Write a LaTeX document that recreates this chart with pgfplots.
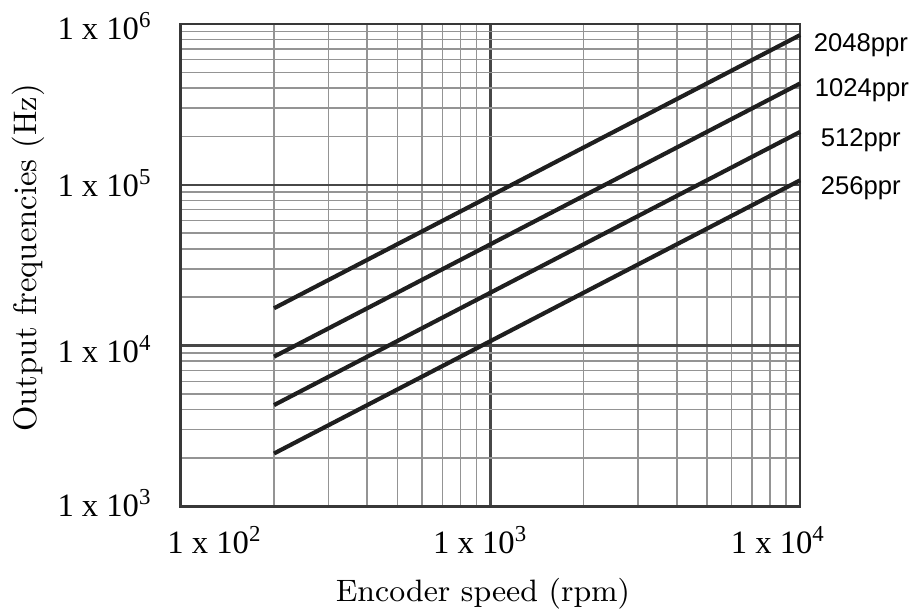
\documentclass[border=0pt]{standalone}
\usepackage{pgfplots}
\pgfplotsset{compat=1.18}
\usepackage{fontspec}
\newfontfamily\tickfont{Liberation Serif}
\newfontfamily\pprfont{Liberation Sans}
\begin{document}
\begin{tikzpicture}
\begin{axis}[
  scale only axis,
  width=186pt, height=144.9pt,
  xmode=log, ymode=log,
  xmin=100, xmax=10000, ymin=1000, ymax=1000000,
  xtick={100,1000,10000}, ytick={1000,10000,100000,1000000},
  xticklabels={,,}, yticklabels={,,,},
  major tick length=0pt, minor tick length=0pt,
  grid=both,
  major grid style={black!72, line width=0.7pt},
  minor grid style={black!42, line width=0.45pt},
  axis line style={black!78, line width=0.8pt},
  clip=false,
]
\addplot[black!88, line width=1.25pt] coordinates {(200,17067) (10000,853333)};
\addplot[black!88, line width=1.25pt] coordinates {(200,8533) (10000,426667)};
\addplot[black!88, line width=1.25pt] coordinates {(200,4267) (10000,213333)};
\addplot[black!88, line width=1.25pt] coordinates {(200,2133) (10000,106667)};

% x tick labels
\node[xshift=-4.2pt, yshift=-14.1pt, anchor=base west, inner sep=0pt, font=\tickfont\fontsize{9.8}{11}\selectfont] at (axis cs:100,1000) {1 x 10\textsuperscript{2}};
\node[xshift=-17.4pt, yshift=-14.1pt, anchor=base west, inner sep=0pt, font=\tickfont\fontsize{9.8}{11}\selectfont] at (axis cs:1000,1000) {1 x 10\textsuperscript{3}};
\node[xshift=-21pt, yshift=-14.1pt, anchor=base west, inner sep=0pt, font=\tickfont\fontsize{9.8}{11}\selectfont] at (axis cs:10000,1000) {1 x 10\textsuperscript{4}};
% y tick labels
\node[xshift=-8.4pt, yshift=-4.8pt, anchor=base east, inner sep=0pt, font=\tickfont\fontsize{9.8}{11}\selectfont] at (axis cs:100,1000000) {1 x 10\textsuperscript{6}};
\node[xshift=-8.4pt, yshift=-3.6pt, anchor=base east, inner sep=0pt, font=\tickfont\fontsize{9.8}{11}\selectfont] at (axis cs:100,100000) {1 x 10\textsuperscript{5}};
\node[xshift=-8.4pt, yshift=-5.1pt, anchor=base east, inner sep=0pt, font=\tickfont\fontsize{9.8}{11}\selectfont] at (axis cs:100,10000) {1 x 10\textsuperscript{4}};
\node[xshift=-8.4pt, yshift=-3pt, anchor=base east, inner sep=0pt, font=\tickfont\fontsize{9.8}{11}\selectfont] at (axis cs:100,1000) {1 x 10\textsuperscript{3}};
% series labels
\node[xshift=3.9pt, yshift=-8.4pt, anchor=base west, inner sep=0pt, font=\pprfont\fontsize{7.7}{9}\selectfont] at (rel axis cs:1,1) {2048ppr};
\node[xshift=4.2pt, yshift=-21.9pt, anchor=base west, inner sep=0pt, font=\pprfont\fontsize{7.7}{9}\selectfont] at (rel axis cs:1,1) {1024ppr};
\node[xshift=6pt, yshift=-36.9pt, anchor=base west, inner sep=0pt, font=\pprfont\fontsize{7.7}{9}\selectfont] at (rel axis cs:1,1) {512ppr};
\node[xshift=6pt, yshift=-51.3pt, anchor=base west, inner sep=0pt, font=\pprfont\fontsize{7.7}{9}\selectfont] at (rel axis cs:1,1) {256ppr};
% axis labels
\node[xshift=-2.25pt, yshift=-28.5pt, anchor=base, inner sep=0pt, font=\fontsize{9.3}{11}\selectfont] at (rel axis cs:0.5,0) {Encoder speed (rpm)};
\node[xshift=-45.9pt, yshift=2.2pt, rotate=90, anchor=center, inner sep=0pt, font=\fontsize{9.8}{12}\selectfont] at (rel axis cs:0,0.5) {Output frequencies (Hz)};
% page extent
\path (rel axis cs:0,0) ++(-54.3pt,-31.8pt) coordinate (bl);
\path (rel axis cs:1,1) ++(33.6pt,7.2pt) coordinate (tr);
\end{axis}
\path (bl) rectangle (tr);
\end{tikzpicture}
\end{document}
